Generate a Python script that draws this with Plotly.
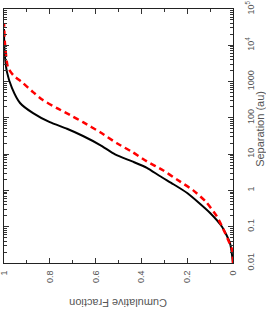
import plotly.graph_objects as go

# Black solid curve: separation (au) vs cumulative fraction
sep_black = [0.01, 0.035, 0.1, 0.24, 0.85, 1.48, 2.5, 4.2, 6.3, 9.8, 17.8, 31.6, 50, 76, 135, 257, 660, 1820, 7400, 28000]
frac_black = [0.0, 0.013, 0.048, 0.10, 0.20, 0.26, 0.32, 0.376, 0.44, 0.515, 0.58, 0.655, 0.725, 0.80, 0.873, 0.93, 0.965, 0.987, 0.998, 1.0]

# Red dashed curve
sep_red = [0.01, 0.023, 0.068, 0.19, 0.5, 1.02, 2.0, 3.6, 6.3, 11.2, 20, 40, 76, 120, 186, 309, 513, 912, 1510, 2510, 11500, 40700]
frac_red = [0.0, 0.004, 0.035, 0.07, 0.12, 0.175, 0.245, 0.306, 0.376, 0.437, 0.507, 0.58, 0.655, 0.712, 0.769, 0.83, 0.873, 0.917, 0.96, 0.983, 0.996, 1.0]

frac_ticks = [1, 0.8, 0.6, 0.4, 0.2, 0]
frac_labels = ["1", "0.8", "0.6", "0.4", "0.2", "0"]
frac_minor = [0.9, 0.7, 0.5, 0.3, 0.1]
sep_ticks = [0.01, 0.1, 1, 10, 100, 1000, 1e4, 1e5]
sep_labels = ["0.01", "0.1", "1", "10", "100", "1000", "10<sup>4</sup>", "10<sup>5</sup>"]

minor_sep = []
for d in sep_ticks[:-1]:
    for m in range(2, 10):
        minor_sep.append(d * m)

fig = go.Figure()
fig.add_trace(go.Scatter(x=frac_black, y=sep_black, mode="lines",
                         line=dict(color="black", width=2, shape="spline", smoothing=0.6), showlegend=False))
fig.add_trace(go.Scatter(x=frac_red, y=sep_red, mode="lines",
                         line=dict(color="#ff0000", width=2.5, dash="6px,4px", shape="spline", smoothing=0.6), showlegend=False))

font = dict(family="Liberation Sans, Arial, sans-serif", size=9, color="#555555")
title_font = dict(family="Liberation Sans, Arial, sans-serif", size=11, color="#555555")

fig.update_layout(
    width=266, height=310,
    margin=dict(l=4, r=33, t=9, b=47),
    paper_bgcolor="white", plot_bgcolor="white",
    xaxis=dict(range=[1, 0], tickvals=frac_ticks, ticktext=frac_labels,
               ticks="inside", ticklen=5, tickcolor="#333", tickwidth=1,
               tickangle=-90, tickfont=font, automargin=False, ticklabelstandoff=3,
               ticklabeloverflow="allow",
               minor=dict(tickvals=frac_minor, ticks="inside", ticklen=3, tickcolor="#333", showgrid=False),
               showline=True, linecolor="#222", linewidth=1, mirror="ticks",
               showgrid=False, zeroline=False),
    yaxis=dict(type="log", range=[-2, 5], side="right",
               tickvals=sep_ticks, ticktext=sep_labels,
               ticks="inside", ticklen=5, tickcolor="#333", tickwidth=1,
               tickangle=-90, tickfont=font, automargin=False, ticklabelstandoff=9,
               ticklabeloverflow="allow",
               minor=dict(tickvals=minor_sep, ticks="inside", ticklen=3, tickcolor="#333", showgrid=False),
               showline=True, linecolor="#222", linewidth=1, mirror="ticks",
               showgrid=False, zeroline=False),
    annotations=[
        dict(text="Cumulative Fraction", xref="paper", yref="paper", x=0.5, y=-0.157,
             showarrow=False, textangle=180, font=title_font,
             xanchor="center", yanchor="middle"),
        dict(text="Separation (au)", xref="paper", yref="paper", x=1.12, y=0.53,
             showarrow=False, textangle=-90, font=title_font,
             xanchor="center", yanchor="middle"),
    ],
)

fig.write_html("out.html", config={"displayModeBar": False},
               post_script="document.body.style.margin='0';document.body.style.padding='0';")
